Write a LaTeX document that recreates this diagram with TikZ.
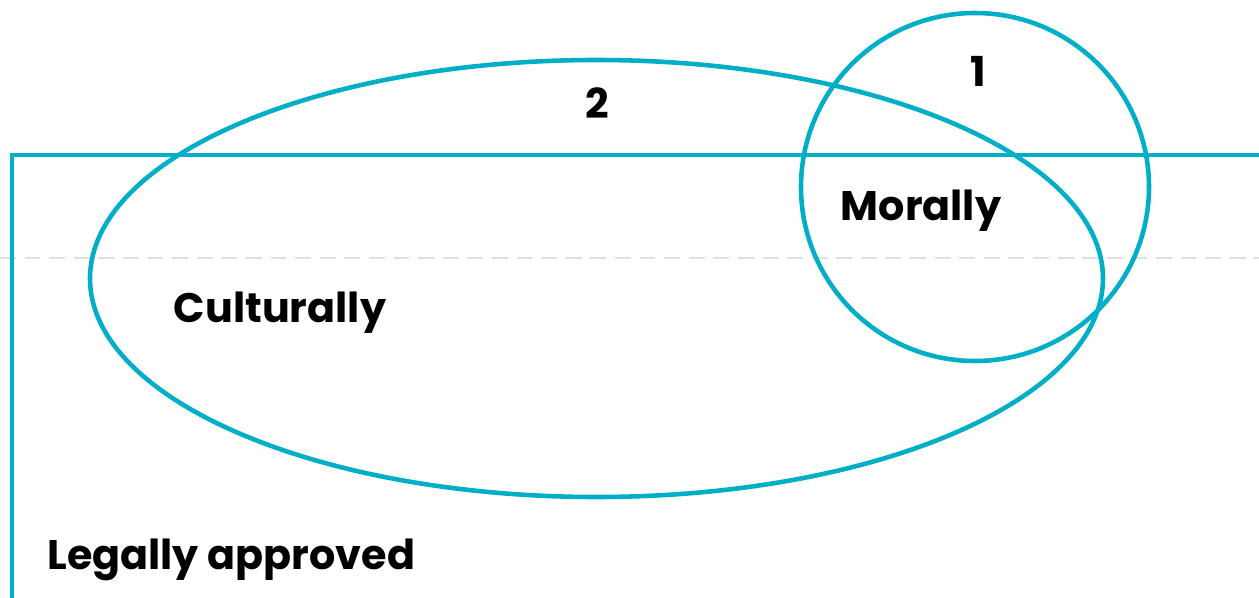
\documentclass[tikz,border=0pt]{standalone}
\usepackage{fontspec}
\setmainfont{Poppins}
\usepackage{xcolor}
\definecolor{vteal}{RGB}{0,174,199}
\definecolor{vgray}{RGB}{224,224,224}
\usepackage{tikz}
\usetikzlibrary{positioning}

\begin{document}
\begin{tikzpicture}[x=0.02cm, y=-0.02cm,
  line/.style={draw=vteal, line width=2.6pt},
  lbl/.style={font=\fontsize{23.5}{28}\selectfont\bfseries, text=black, inner sep=0pt}]
  \useasboundingbox (0,0) rectangle (1259,598);

  % guide line
  \draw[vgray, line width=1.2pt, dash pattern=on 9pt off 5pt] (0,258) -- (1259,258);

  % Legally approved
  \draw[line] (12,598) -- (12,155) -- (1259,155);
  \node[lbl, anchor=base west] (legal) at (47,569) {Legally approved};

  % Culturally
  \draw[line] (596.5,278.5) ellipse [x radius=506.5, y radius=218.5];
  \node[lbl] (cultural) at (280,313) {Culturally};
  \node[lbl] (two) at (597,103) {2};

  % Morally
  \draw[line] (975,187) circle [radius=174];
  \node[lbl] (moral) at (921,211) {Morally};
  \node[lbl] (one) at (978,71) {1};
\end{tikzpicture}
\end{document}
